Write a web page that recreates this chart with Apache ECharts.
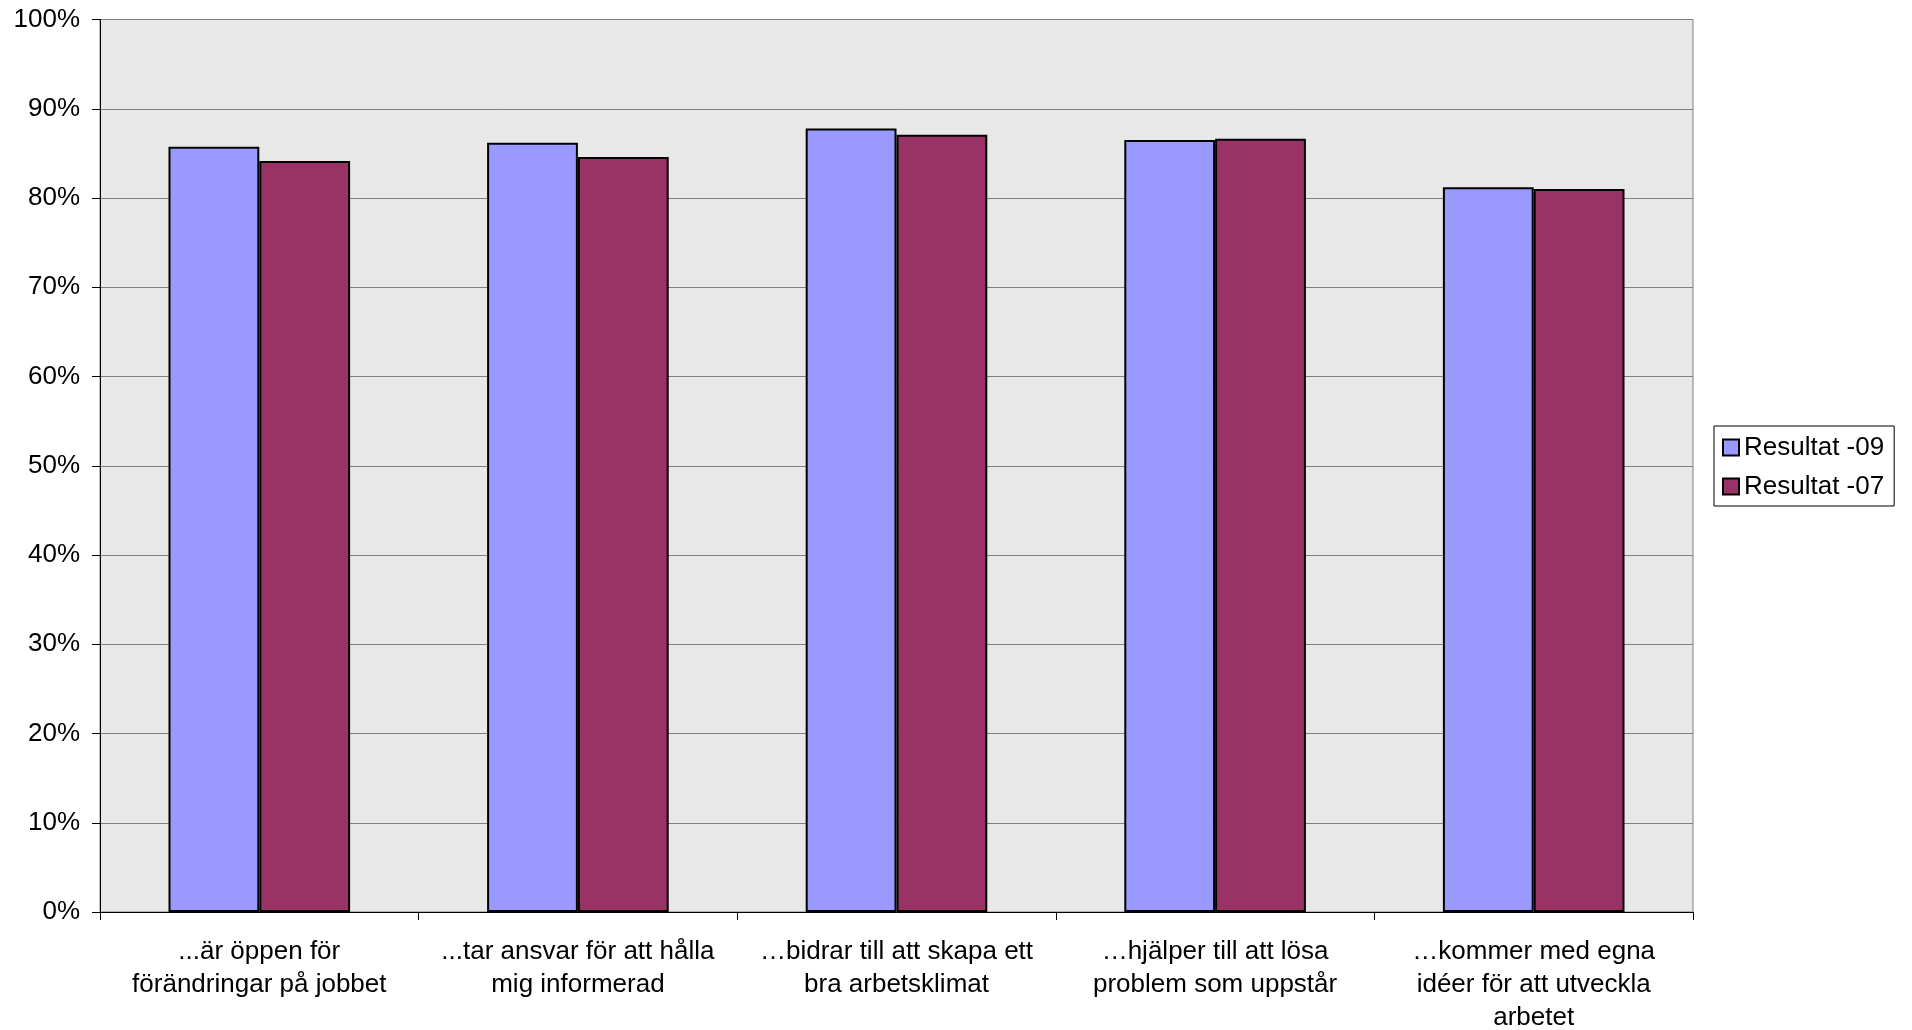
<!DOCTYPE html>
<html>
<head>
<meta charset="utf-8">
<script src="https://cdn.jsdelivr.net/npm/echarts@6/dist/echarts.min.js"></script>
<style>
html,body{margin:0;padding:0;background:#fff;}
#chart{width:1912px;height:1030px;}
</style>
</head>
<body>
<div id="chart"></div>
<script>
var categories = [
  "...är öppen för\nförändringar på jobbet",
  "...tar ansvar för att hålla\nmig informerad",
  "…bidrar till att skapa ett\nbra arbetsklimat",
  "…hjälper till att lösa\nproblem som uppstår",
  "…kommer med egna\nidéer för att utveckla\narbetet"
];
var seriesNames = ["Resultat -09", "Resultat -07"];
var result09 = [85.75, 86.2, 87.8, 86.5, 81.2];
var result07 = [84.15, 84.6, 87.1, 86.65, 81.0];

var chart = echarts.init(document.getElementById('chart'));
var font = '"Liberation Sans", Arial, sans-serif';
chart.setOption({
  animation: false,
  backgroundColor: '#ffffff',
  textStyle: { fontFamily: font },
  grid: {
    left: 100, right: 219, top: 19.5, bottom: 118,
    containLabel: false,
    outerBoundsMode: 'none',
    show: true, backgroundColor: '#E8E8E8', borderColor: '#808080', borderWidth: 1
  },
  legend: {
    orient: 'vertical',
    left: 1714, top: 426,
    data: seriesNames,
    icon: 'rect',
    itemWidth: 16, itemHeight: 16,
    itemGap: 10,
    padding: [7, 10, 5, 8],
    borderColor: '#000', borderWidth: 1,
    backgroundColor: '#fff',
    textStyle: { fontSize: 26, color: '#000', fontFamily: font, lineHeight: 29 }
  },
  xAxis: {
    type: 'category',
    data: categories,
    axisLine: { lineStyle: { color: '#000', width: 1 } },
    axisTick: { show: true, length: 8, lineStyle: { color: '#000' }, alignWithLabel: false },
    axisLabel: { fontSize: 26, color: '#000', lineHeight: 33, margin: 23, interval: 0, fontFamily: font },
    splitLine: { show: false }
  },
  yAxis: {
    type: 'value',
    min: 0, max: 100, interval: 10,
    axisLine: { show: true, lineStyle: { color: '#000', width: 1 } },
    axisTick: { show: true, length: 8, lineStyle: { color: '#000' } },
    axisLabel: { fontSize: 26, color: '#000', margin: 20, formatter: '{value}%', fontFamily: font },
    splitLine: { show: true, lineStyle: { color: '#808080', width: 1 } }
  },
  series: [
    {
      name: seriesNames[0], type: 'bar', data: result09,
      barGap: '0%', barCategoryGap: '43%',
      itemStyle: { color: '#9999FF', borderColor: '#000', borderWidth: 2 }
    },
    {
      name: seriesNames[1], type: 'bar', data: result07,
      barGap: '0%', barCategoryGap: '43%',
      itemStyle: { color: '#993366', borderColor: '#000', borderWidth: 2 }
    }
  ]
});
</script>
</body>
</html>
